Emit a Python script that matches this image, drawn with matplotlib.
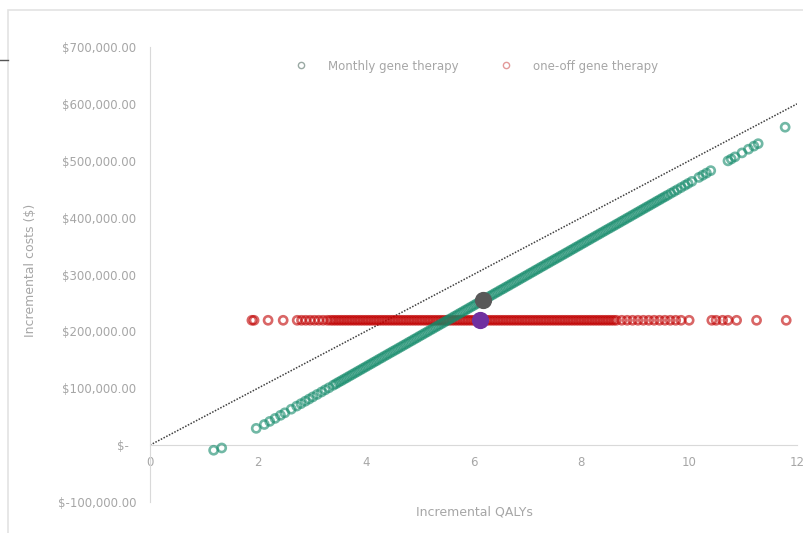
import matplotlib
matplotlib.use("Agg")
import matplotlib.pyplot as plt
from matplotlib.patches import Rectangle
from matplotlib.lines import Line2D
from matplotlib.ticker import FixedLocator, FixedFormatter

# PSA iterations (QALYs, costs in $ thousands)
monthly_qalys = [
    1.18, 1.33, 1.97, 2.12, 2.22, 2.32, 2.42, 2.50, 2.62, 2.72, 2.80, 2.88,
    2.95, 3.02, 3.10, 3.18, 3.25, 3.32,
    3.40, 3.45, 3.50, 3.55, 3.60, 3.65, 3.70, 3.75, 3.80, 3.85, 3.90, 3.95,
    4.00, 4.05, 4.10, 4.15, 4.20, 4.25, 4.30, 4.35, 4.40, 4.45, 4.50, 4.55,
    4.60, 4.65, 4.70, 4.75, 4.80, 4.85, 4.90, 4.95, 5.00, 5.05, 5.10, 5.15,
    5.20, 5.25, 5.30, 5.35, 5.40, 5.45, 5.50, 5.55, 5.60, 5.65, 5.70, 5.75,
    5.80, 5.85, 5.90, 5.95, 6.00, 6.05, 6.10, 6.15, 6.20, 6.25, 6.30, 6.35,
    6.40, 6.45, 6.50, 6.55, 6.60, 6.65, 6.70, 6.75, 6.80, 6.85, 6.90, 6.95,
    7.00, 7.05, 7.10, 7.15, 7.20, 7.25, 7.30, 7.35, 7.40, 7.45, 7.50, 7.55,
    7.60, 7.65, 7.70, 7.75, 7.80, 7.85, 7.90, 7.95, 8.00, 8.05, 8.10, 8.15,
    8.20, 8.25, 8.30, 8.35, 8.40, 8.45, 8.50, 8.55, 8.60, 8.65, 8.70, 8.75,
    8.80, 8.85, 8.90, 8.95, 9.00, 9.05, 9.10, 9.15, 9.20, 9.25, 9.30, 9.35,
    9.40, 9.45, 9.50, 9.55,
    9.60, 9.66, 9.72, 9.78, 9.85, 9.92, 9.98, 10.05, 10.18, 10.25, 10.32,
    10.40, 10.72, 10.78, 10.85, 10.98, 11.10, 11.20, 11.28, 11.78,
]
monthly_costs = [
    -9.0, -5.0, 29.5, 36.3, 41.7, 47.0, 52.4, 56.8, 63.2, 68.6, 72.9, 77.2,
    81.0, 84.8, 89.1, 93.4, 97.2, 100.9,
    105.3, 108.0, 110.7, 113.3, 116.0, 118.7, 121.4, 124.1, 126.8, 129.5, 132.2, 134.9,
    137.6, 140.3, 143.0, 145.7, 148.4, 151.1, 153.8, 156.5, 159.2, 161.9, 164.6, 167.2,
    169.9, 172.6, 175.3, 178.0, 180.7, 183.4, 186.1, 188.8, 191.5, 194.2, 196.9, 199.6,
    202.3, 205.0, 207.7, 210.4, 213.1, 215.8, 218.5, 221.1, 223.8, 226.5, 229.2, 231.9,
    234.6, 237.3, 240.0, 242.7, 245.4, 248.1, 250.8, 253.5, 256.2, 258.9, 261.6, 264.3,
    267.0, 269.7, 272.4, 275.0, 277.7, 280.4, 283.1, 285.8, 288.5, 291.2, 293.9, 296.6,
    299.3, 302.0, 304.7, 307.4, 310.1, 312.8, 315.5, 318.2, 320.9, 323.6, 326.3, 328.9,
    331.6, 334.3, 337.0, 339.7, 342.4, 345.1, 347.8, 350.5, 353.2, 355.9, 358.6, 361.3,
    364.0, 366.7, 369.4, 372.1, 374.8, 377.5, 380.2, 382.8, 385.5, 388.2, 390.9, 393.6,
    396.3, 399.0, 401.7, 404.4, 407.1, 409.8, 412.5, 415.2, 417.9, 420.6, 423.3, 426.0,
    428.7, 431.4, 434.1, 436.8,
    439.4, 442.7, 445.9, 449.1, 452.9, 456.7, 460.0, 463.7, 470.7, 474.5, 478.2,
    482.6, 499.8, 503.0, 506.8, 513.8, 520.3, 525.7, 530.0, 559.0,
]

oneoff_qalys = [
    1.89, 1.93, 2.19, 2.47, 2.73, 2.81, 2.89, 2.97, 3.05, 3.13, 3.21, 3.29,
    3.35, 3.40, 3.45, 3.50, 3.55, 3.60, 3.65, 3.70, 3.75, 3.80, 3.85, 3.90,
    3.95, 4.00, 4.05, 4.10, 4.15, 4.20, 4.25, 4.30, 4.35, 4.40, 4.45, 4.50,
    4.55, 4.60, 4.65, 4.70, 4.75, 4.80, 4.85, 4.90, 4.95, 5.00, 5.05, 5.10,
    5.15, 5.20, 5.25, 5.30, 5.35, 5.40, 5.45, 5.50, 5.55, 5.60, 5.65, 5.70,
    5.75, 5.80, 5.85, 5.90, 5.95, 6.00, 6.05, 6.10, 6.15, 6.20, 6.25, 6.30,
    6.35, 6.40, 6.45, 6.50, 6.55, 6.60, 6.65, 6.70, 6.75, 6.80, 6.85, 6.90,
    6.95, 7.00, 7.05, 7.10, 7.15, 7.20, 7.25, 7.30, 7.35, 7.40, 7.45, 7.50,
    7.55, 7.60, 7.65, 7.70, 7.75, 7.80, 7.85, 7.90, 7.95, 8.00, 8.05, 8.10,
    8.15, 8.20, 8.25, 8.30, 8.35, 8.40, 8.45, 8.50, 8.55, 8.60, 8.65,
    8.75, 8.85, 8.95, 9.05, 9.15, 9.25, 9.35, 9.45, 9.55, 9.65, 9.75, 9.85,
    10.00, 10.42, 10.50, 10.62, 10.72, 10.88, 11.25, 11.80,
]
oneoff_cost = 219.5  # one-off therapy price, same in every iteration

# mean results
mean_monthly = (6.18, 255.0)
mean_oneoff = (6.12, 219.5)

# willingness-to-pay threshold line
wtp_qalys = [0, 12]
wtp_costs = [0, 600.0]

y_ticks = [-100000, 0, 100000, 200000, 300000, 400000, 500000, 600000, 700000]
y_labels = ["$-100,000.00", "$-  ", "$100,000.00", "$200,000.00", "$300,000.00",
            "$400,000.00", "$500,000.00", "$600,000.00", "$700,000.00"]
x_ticks = [0, 2, 4, 6, 8, 10, 12]

GREEN = "#138a6a"
RED = "#c00000"
TXT = "#a6a6a6"

fig = plt.figure(figsize=(8.04, 5.33), dpi=100)
ax = fig.add_axes([150 / 804, 31 / 533, 647 / 804, 455 / 533])

ax.plot(wtp_qalys, [c * 1000 for c in wtp_costs], color="#404040", lw=1.1,
        ls=(0, (1, 1)), zorder=2)

ax.scatter(oneoff_qalys, [oneoff_cost * 1000] * len(oneoff_qalys), s=34,
           facecolors="none", edgecolors=RED, linewidths=1.9, alpha=0.6,
           zorder=3, label="one-off gene therapy")
ax.scatter(monthly_qalys, [c * 1000 for c in monthly_costs], s=34,
           facecolors="none", edgecolors=GREEN, linewidths=1.9, alpha=0.6,
           zorder=4, label="Monthly gene therapy")

ax.scatter([mean_monthly[0]], [mean_monthly[1] * 1000], s=130, color="#595959",
           zorder=6)
ax.scatter([mean_oneoff[0]], [mean_oneoff[1] * 1000], s=130, color="#7030a0",
           zorder=6)

ax.set_xlim(0, 12)
ax.set_ylim(-100000, 700000)
for side in ["top", "right"]:
    ax.spines[side].set_visible(False)
ax.spines["bottom"].set_position(("data", 0))
ax.spines["bottom"].set_color("#d9d9d9")
ax.spines["left"].set_color("#d9d9d9")

ax.xaxis.set_major_locator(FixedLocator(x_ticks))
ax.yaxis.set_major_locator(FixedLocator(y_ticks))
ax.yaxis.set_major_formatter(FixedFormatter(y_labels))
ax.tick_params(axis="x", length=0, pad=8, labelsize=8.5, labelcolor=TXT)
ax.tick_params(axis="y", length=0, pad=10, labelsize=8.5, labelcolor=TXT)

ax.set_xlabel("Incremental QALYs", fontsize=9, color=TXT)
ax.xaxis.set_label_coords(0.502, -0.008)
ax.set_ylabel("Incremental costs ($)", fontsize=9, color=TXT)
ax.yaxis.set_label_coords(-0.175, 0.51)

handles = [
    Line2D([], [], ls="none", marker="o", markersize=4.5, mfc="none",
           mec="#9aa9a4", mew=1.0),
    Line2D([], [], ls="none", marker="o", markersize=4.5, mfc="none",
           mec="#e39a9a", mew=1.0),
]
ax.legend(handles, ["Monthly gene therapy", "one-off gene therapy"], ncol=2,
          loc="center", bbox_to_anchor=(0.5, 0.958), frameon=False,
          fontsize=8.5, labelcolor=TXT, handletextpad=1.3, columnspacing=3.0)

# chart border and stray line from the source screenshot
fig.patches.append(Rectangle((8 / 804, -0.05), 1.2, 1 - 10 / 533 + 0.05,
                             transform=fig.transFigure, fill=False,
                             ec="#e3e3e3", lw=1.2))
fig.lines.append(Line2D([0, 8 / 804], [1 - 60 / 533] * 2,
                        transform=fig.transFigure, color="#555555", lw=1))

fig.savefig("out.png", dpi=100)
